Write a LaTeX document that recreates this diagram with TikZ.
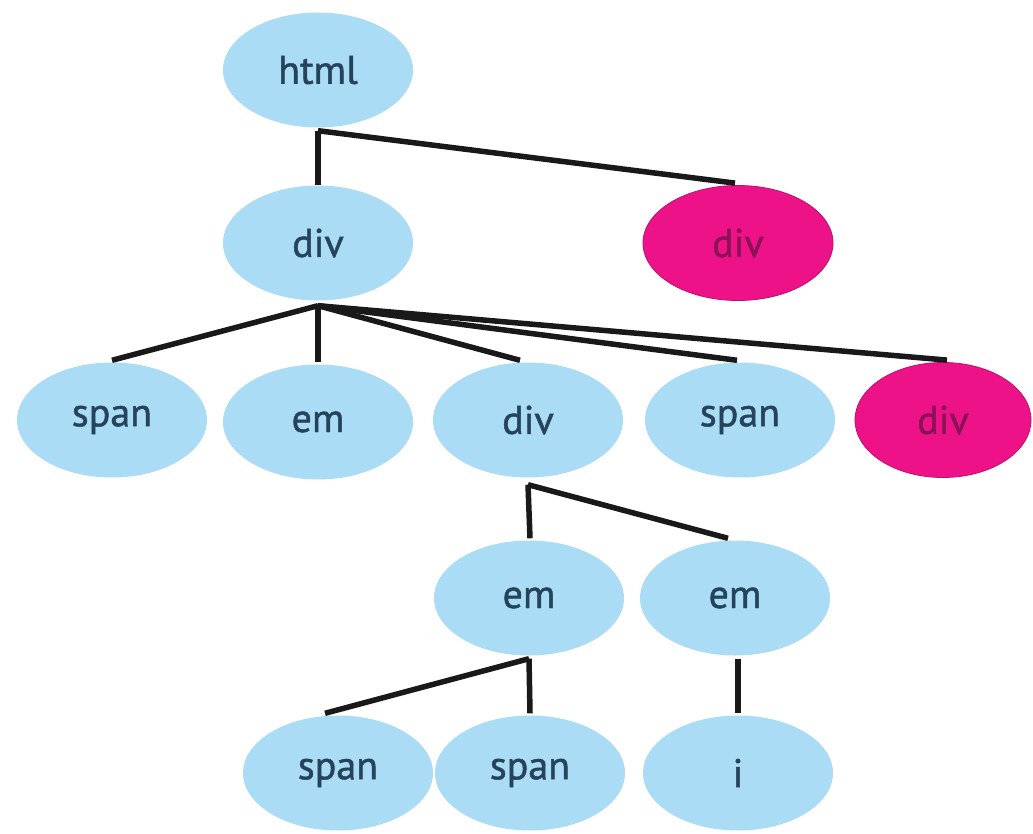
\documentclass[tikz,border=0pt]{standalone}
\usepackage{fontspec}
\setmainfont{PT Sans}
\newfontfamily\nodefont{PT Sans}[FakeBold=1.2]
\usetikzlibrary{shapes.geometric}
\definecolor{lblue}{HTML}{AADCF5}
\definecolor{hpink}{HTML}{EE1289}
\definecolor{ntext}{HTML}{26435C}
\definecolor{ptext}{HTML}{8A1255}
\tikzset{
  tnode/.style={ellipse, fill=lblue, draw=none, minimum width=190pt, minimum height=115pt, inner sep=0pt, text=ntext, font=\nodefont\fontsize{40}{40}\selectfont},
  pnode/.style={tnode, fill=hpink, draw=hpink!80!black, line width=0.8pt, text=ptext},
  edge/.style={line width=5.5pt, draw=black!90}
}
\begin{document}
\begin{tikzpicture}[x=1pt,y=-1pt]
\useasboundingbox[fill=white] (0,0) rectangle (1033,834);
\node[tnode] (html) at (318,70) {html};
\node[tnode] (div1) at (318,243) {div};
\node[pnode] (pdiv1) at (738,243) {div};
\node[tnode] (span1) at (112,420) {span};
\node[tnode] (em1) at (318,422) {em};
\node[tnode] (div2) at (528,420) {div};
\node[tnode] (span2) at (740,420) {span};
\node[pnode, minimum width=176pt] (pdiv2) at (943,420) {div};
\node[tnode] (em2) at (529,598) {em};
\node[tnode] (em3) at (735,598) {em};
\node[tnode] (span3) at (338,773) {span};
\node[tnode] (span4) at (530,773) {span};
\node[tnode] (inode) at (738,773) {i};
\coordinate (htmlb) at ([yshift=-3pt]html.south);
\coordinate (div1b) at ([yshift=-5pt]div1.south);
\coordinate (div2b) at ([yshift=-7pt]div2.south);
\coordinate (em2b) at ([yshift=-3pt]em2.south);
\coordinate (em3b) at ([yshift=-3pt,xshift=3pt]em3.south);
\draw[edge] (htmlb) -- (div1.north);
\draw[edge] (htmlb) -- ([xshift=-3pt,yshift=2pt]pdiv1.north);
\draw[edge] (div1b) -- ([yshift=2pt]span1.north);
\draw[edge] (div1b) -- ([yshift=2pt]em1.north);
\draw[edge] (div1b) -- ([xshift=-8pt,yshift=2pt]div2.north);
\draw[edge] (div1b) -- ([xshift=-3pt,yshift=2pt]span2.north);
\draw[edge] (div1b) -- ([xshift=4pt,yshift=2pt]pdiv2.north);
\draw[edge] (div2b) -- ([xshift=1pt,yshift=2pt]em2.north);
\draw[edge] (div2b) -- ([xshift=-7pt,yshift=2pt]em3.north);
\draw[edge] (em2b) -- ([xshift=-13pt,yshift=2pt]span3.north);
\draw[edge] (em2b) -- ([yshift=2pt]span4.north);
\draw[edge] (em3b) -- ([yshift=2pt]inode.north);
\end{tikzpicture}
\end{document}
